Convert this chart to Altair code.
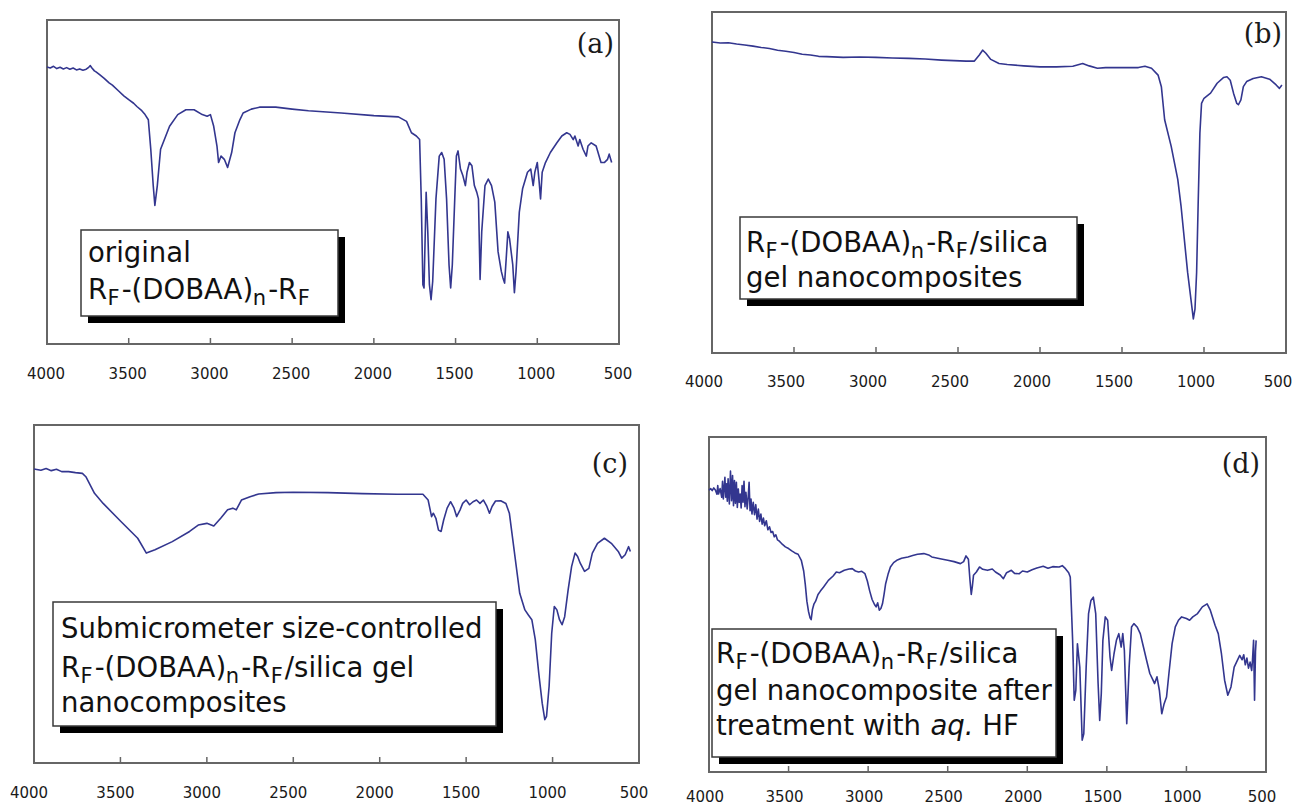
import altair as alt
import pandas as pd

# ---------------- data ----------------
A_WN = [4000, 3980, 3960, 3940, 3920, 3900, 3880, 3860, 3840, 3820, 3800, 3780, 3760, 3745, 3735, 3725,
        3710, 3700, 3680, 3650, 3620, 3600, 3560, 3530, 3500, 3470, 3450, 3420, 3400, 3380, 3365, 3350,
        3340, 3325, 3305, 3250, 3200, 3150, 3100, 3050, 3020, 3000, 2980, 2960, 2950, 2935, 2915, 2895,
        2870, 2850, 2820, 2800, 2750, 2700, 2600, 2500, 2400, 2200, 2000, 1850, 1800, 1770, 1740, 1720,
        1710, 1700, 1693, 1680, 1670, 1660, 1650, 1640, 1620, 1600, 1585, 1570, 1555, 1540, 1530, 1520,
        1505, 1495, 1485, 1470, 1455, 1440, 1430, 1415, 1400, 1385, 1370, 1360, 1350, 1340, 1320, 1300,
        1280, 1260, 1240, 1220, 1210, 1200, 1190, 1180, 1170, 1150, 1140, 1130, 1110, 1090, 1060, 1040,
        1025, 1015, 1000, 990, 980, 970, 950, 920, 880, 850, 820, 800, 780, 770, 750, 740, 720, 700, 690,
        670, 640, 610, 590, 570, 560, 545]
A_T = [85.5, 85.2, 85.7, 85.0, 85.4, 84.9, 85.3, 84.8, 85.2, 84.6, 84.9, 84.5, 84.8, 85.4, 85.9, 85.2,
       84.3, 84.0, 83.2, 82.0, 80.6, 79.9, 78.0, 76.6, 75.4, 74.3, 73.3, 72.0, 70.8, 69.2, 60.1, 48.9,
       42.8, 48.9, 60.1, 67.2, 70.8, 72.3, 72.3, 70.8, 70.3, 70.8, 67.2, 61.1, 56.0, 58.0, 57.0, 54.5,
       59.1, 65.2, 69.2, 71.3, 72.5, 73.1, 73.1, 72.5, 72.0, 71.3, 70.5, 70.1, 68.7, 65.2, 64.2, 63.1,
       44.8, 18.3, 17.3, 46.8, 34.6, 18.3, 13.7, 19.3, 44.8, 58.0, 59.1, 57.0, 44.8, 24.4, 17.3, 24.4,
       44.8, 58.0, 59.6, 54.0, 51.9, 48.9, 53.0, 56.0, 55.0, 48.9, 46.8, 44.8, 19.9, 34.6, 48.9, 50.9,
       48.9, 43.8, 28.5, 22.4, 20.4, 18.8, 26.5, 34.6, 32.6, 24.4, 15.8, 22.4, 40.7, 47.9, 53.0, 54.0,
       48.9, 53.0, 56.0, 50.9, 44.8, 53.0, 56.0, 59.1, 62.1, 64.2, 65.2, 64.7, 63.1, 64.2, 61.1, 63.1,
       60.1, 58.0, 61.1, 62.1, 61.1, 56.0, 56.0, 57.0, 58.6, 56.0]

B_WN = [4000, 3950, 3900, 3850, 3800, 3750, 3700, 3650, 3600, 3550, 3500, 3450, 3400, 3350, 3300, 3200,
        3100, 3000, 2900, 2800, 2700, 2600, 2450, 2400, 2370, 2350, 2330, 2300, 2250, 2200, 2100, 2000,
        1900, 1800, 1740, 1700, 1650, 1600, 1500, 1400, 1360, 1320, 1280, 1260, 1240, 1200, 1160, 1140,
        1120, 1100, 1080, 1065, 1055, 1045, 1035, 1025, 1015, 1000, 960, 920, 880, 860, 840, 820, 800,
        790, 775, 760, 740, 700, 650, 600, 560, 540, 525]
B_T = [91.2, 90.9, 91.0, 90.6, 90.3, 90.0, 89.6, 89.3, 88.8, 88.5, 88.1, 87.6, 87.4, 87.0, 86.9, 86.7,
       86.8, 86.7, 86.5, 86.4, 86.2, 85.9, 85.6, 85.6, 87.4, 88.8, 87.9, 86.1, 84.9, 84.6, 84.2, 83.9,
       83.9, 84.1, 84.9, 84.2, 83.5, 83.7, 83.7, 83.7, 84.1, 83.5, 81.5, 78.1, 68.4, 60.6, 50.9, 43.1,
       33.4, 23.7, 15.9, 10.0, 12.9, 23.7, 45.0, 64.5, 73.2, 74.7, 76.2, 79.1, 80.8, 81.0, 80.0, 76.2,
       73.2, 72.8, 74.2, 78.1, 79.6, 80.5, 81.0, 80.3, 78.6, 77.6, 78.6]

C_WN = [4000, 3960, 3930, 3900, 3870, 3840, 3800, 3760, 3720, 3700, 3650, 3600, 3500, 3400, 3350, 3300,
        3200, 3100, 3050, 3000, 2960, 2920, 2880, 2850, 2830, 2800, 2750, 2700, 2600, 2500, 2300, 2100,
        1900, 1750, 1720, 1700, 1690, 1675, 1660, 1645, 1630, 1610, 1590, 1570, 1555, 1535, 1520, 1500,
        1480, 1460, 1440, 1420, 1400, 1380, 1365, 1350, 1330, 1300, 1270, 1250, 1230, 1210, 1190, 1160,
        1140, 1120, 1100, 1080, 1060, 1045, 1035, 1020, 1005, 990, 975, 960, 945, 930, 910, 890, 870,
        855, 840, 815, 790, 770, 740, 700, 660, 620, 600, 580, 560, 550]
C_T = [87.0, 86.6, 87.1, 86.5, 86.9, 86.2, 86.2, 85.9, 85.7, 84.7, 79.8, 76.8, 71.6, 66.5, 62.1, 63.1,
       65.5, 68.5, 70.4, 70.9, 70.1, 72.4, 74.9, 75.4, 74.9, 77.8, 78.8, 79.6, 80.0, 80.1, 80.0, 79.7,
       79.5, 79.5, 77.8, 72.9, 73.9, 72.4, 68.9, 68.5, 71.9, 75.4, 77.3, 75.4, 72.9, 74.9, 76.8, 77.8,
       76.4, 77.3, 77.8, 76.8, 77.8, 75.9, 73.9, 75.9, 77.5, 77.6, 76.8, 73.9, 66.0, 58.1, 50.2, 45.3,
       43.8, 42.4, 36.5, 26.6, 17.7, 12.8, 13.8, 22.7, 38.4, 46.3, 45.3, 42.4, 40.9, 43.3, 51.2, 58.1,
       62.1, 61.1, 59.1, 56.7, 57.6, 62.1, 65.0, 66.5, 65.0, 62.6, 60.6, 61.6, 64.0, 62.6]

D_WN = [4000, 3990, 3980, 3970, 3960, 3950, 3945, 3940, 3930, 3920, 3915, 3910, 3900, 3895, 3890, 3885,
        3880, 3872, 3865, 3858, 3852, 3846, 3840, 3834, 3828, 3822, 3816, 3810, 3804, 3798, 3792, 3786,
        3780, 3774, 3768, 3760, 3754, 3748, 3742, 3736, 3730, 3722, 3714, 3706, 3698, 3690, 3682, 3674,
        3666, 3658, 3650, 3640, 3630, 3620, 3610, 3600, 3590, 3580, 3570, 3560, 3550, 3540, 3520, 3500,
        3480, 3460, 3440, 3420, 3405, 3395, 3385, 3375, 3365, 3358, 3350, 3340, 3330, 3315, 3300, 3280,
        3250, 3220, 3200, 3180, 3150, 3120, 3100, 3080, 3060, 3040, 3020, 3005, 2990, 2975, 2960, 2950,
        2940, 2930, 2920, 2910, 2900, 2890, 2875, 2860, 2840, 2820, 2790, 2750, 2720, 2690, 2650, 2620,
        2600, 2570, 2540, 2500, 2460, 2420, 2400, 2385, 2370, 2360, 2352, 2345, 2338, 2320, 2300, 2280,
        2250, 2220, 2200, 2170, 2150, 2130, 2100, 2080, 2050, 2030, 2000, 1970, 1940, 1900, 1870, 1840,
        1800, 1780, 1760, 1740, 1730, 1715, 1705, 1695, 1685, 1670, 1655, 1645, 1630, 1615, 1600, 1585,
        1570, 1555, 1545, 1535, 1525, 1510, 1495, 1480, 1470, 1455, 1440, 1425, 1410, 1400, 1390, 1375,
        1360, 1345, 1330, 1310, 1290, 1270, 1250, 1230, 1210, 1200, 1185, 1170, 1155, 1140, 1125, 1110,
        1090, 1070, 1050, 1030, 1000, 980, 960, 930, 900, 870, 850, 820, 800, 780, 760, 740, 720, 700,
        680, 665, 650, 640, 630, 620, 610, 600, 590, 585, 578, 572, 566, 562]
D_T = [84.1, 84.6, 84.0, 84.8, 84.2, 82.9, 85.5, 83.0, 84.6, 82.0, 86.8, 81.5, 88.0, 82.0, 86.0, 80.8,
       87.5, 80.0, 89.8, 81.0, 88.5, 79.5, 87.0, 80.2, 86.5, 79.0, 84.5, 80.5, 83.0, 78.8, 85.5, 80.5,
       86.8, 79.2, 83.5, 78.5, 82.0, 86.5, 78.0, 81.5, 77.0, 80.5, 76.8, 79.8, 75.5, 78.5, 74.8, 77.0,
       74.0, 75.8, 73.5, 75.0, 72.3, 73.2, 71.5, 71.8, 70.2, 70.8, 69.3, 69.0, 68.5, 68.0, 67.2, 66.7,
       66.0, 65.4, 65.0, 63.2, 60.0, 56.0, 51.0, 48.0, 46.0, 45.5, 48.5, 50.2, 51.0, 53.0, 54.0, 55.2,
       57.2, 58.5, 59.7, 59.5, 60.2, 60.6, 60.7, 60.0, 59.7, 59.9, 59.2, 57.0, 54.0, 51.5, 50.0, 49.3,
       50.5, 48.3, 48.8, 50.2, 53.0, 56.2, 59.0, 61.2, 62.5, 63.2, 63.8, 64.2, 64.6, 65.0, 65.2, 64.8,
       64.2, 63.9, 63.6, 63.2, 62.8, 62.2, 62.8, 64.5, 63.5, 57.2, 53.0, 55.5, 58.7, 59.7, 61.2, 60.5,
       60.2, 60.6, 59.7, 58.8, 57.7, 59.5, 60.2, 59.3, 59.2, 60.0, 59.7, 60.4, 60.9, 61.4, 60.8, 61.3,
       61.2, 61.6, 60.7, 59.5, 58.2, 39.3, 21.4, 24.4, 38.3, 31.3, 9.5, 11.4, 31.3, 47.3, 51.2, 52.2,
       47.3, 26.4, 15.4, 23.4, 39.3, 46.3, 45.3, 34.3, 30.3, 35.3, 39.3, 41.3, 37.3, 41.3, 36.3, 14.4,
       31.3, 43.3, 44.3, 43.3, 41.3, 37.3, 33.3, 29.4, 27.4, 26.4, 28.4, 24.4, 17.4, 20.4, 22.4, 29.4,
       38.3, 43.3, 45.3, 46.3, 45.8, 45.3, 46.3, 47.3, 49.3, 50.2, 48.3, 43.8, 41.3, 35.3, 27.4, 22.9,
       25.4, 31.3, 33.3, 34.8, 33.5, 35.0, 32.0, 34.0, 31.0, 32.8, 30.3, 33.3, 39.3, 21.4, 36.0, 39.3]

TICKS = [3500, 3000, 2500, 2000, 1500, 1000]
TICK_LABELS = [4000, 3500, 3000, 2500, 2000, 1500, 1000, 500]
PANEL_TAGS = ["(a)", "(b)", "(c)", "(d)"]

# ---------------- layout ----------------
LINE_COLOR = "#33368f"
FRAME_COLOR = "#666666"
W, H = 1293, 806

panels = [
    dict(wn=A_WN, t=A_T, x0=47, x1=619, y0=20, y1=344, tag=PANEL_TAGS[0], tagx=614, tagy=45, ldy=30, ldx=-1),
    dict(wn=B_WN, t=B_T, x0=712, x1=1286, y0=12, y1=353, tag=PANEL_TAGS[1], tagx=1282, tagy=35, ldy=29, ldx=-8),
    dict(wn=C_WN, t=C_T, x0=34, x1=639, y0=425, y1=763, tag=PANEL_TAGS[2], tagx=628, tagy=465, ldy=30, ldx=-5),
    dict(wn=D_WN, t=D_T, x0=709, x1=1266, y0=437, y1=772, tag=PANEL_TAGS[3], tagx=1260, tagy=465, ldy=25, ldx=-4),
]

one_row = pd.DataFrame({"k": [0]})
layers = []
for p in panels:
    xs = alt.Scale(domain=[500, 4000], range=[p["x1"], p["x0"]], nice=False, zero=False)
    ys = alt.Scale(domain=[0, 100], range=[p["y1"], p["y0"]], nice=False, zero=False)
    df = pd.DataFrame({"wn": p["wn"], "t": p["t"]})
    df["i"] = range(len(df))
    tick_df = pd.DataFrame({"v": TICKS})
    lab_df = pd.DataFrame({"v": TICK_LABELS, "s": [str(v) for v in TICK_LABELS]})
    tick_len = 6.0 / (p["y1"] - p["y0"]) * 100

    frame = alt.Chart(one_row).mark_rect(fill="white", stroke=FRAME_COLOR, strokeWidth=2).encode(
        x=alt.X(datum=4000, type="quantitative", scale=xs, axis=None),
        x2=alt.X2(datum=500),
        y=alt.Y(datum=0, type="quantitative", scale=ys, axis=None),
        y2=alt.Y2(datum=100),
    )
    ticks = alt.Chart(tick_df).mark_rule(color=FRAME_COLOR, strokeWidth=1.5).encode(
        x=alt.X("v:Q", scale=xs, axis=None),
        y=alt.Y(datum=0, type="quantitative", scale=ys, axis=None),
        y2=alt.Y2(datum=tick_len),
    )
    labels = alt.Chart(lab_df).mark_text(
        font="DejaVu Sans", fontSize=15, color="#1a1a1a", baseline="middle", align="center",
        dy=p["ldy"], dx=p["ldx"],
    ).encode(
        x=alt.X("v:Q", scale=xs, axis=None),
        y=alt.Y(datum=0, type="quantitative", scale=ys, axis=None),
        text="s:N",
    )
    line = alt.Chart(df).mark_line(color=LINE_COLOR, strokeWidth=1.6, strokeJoin="round").encode(
        x=alt.X("wn:Q", scale=xs, axis=None),
        y=alt.Y("t:Q", scale=ys, axis=None),
        order="i:Q",
    )
    tag = alt.Chart(one_row).mark_text(
        text=p["tag"], font="DejaVu Serif", fontSize=27, color="#1a1a1a", align="right", baseline="middle"
    ).encode(x=alt.value(p["tagx"]), y=alt.value(p["tagy"]))
    layers.append(alt.layer(frame, ticks, line, labels, tag))

# ---------------- annotation boxes ----------------
ADV = {" ": 318, "(": 390, ")": 390, "-": 361, ".": 318, "/": 337, "A": 684, "B": 686,
       "D": 770, "F": 575, "H": 752, "O": 787, "R": 695, "S": 635, "a": 613, "b": 635, "c": 550,
       "d": 635, "e": 615, "f": 352, "g": 635, "h": 634, "i": 278, "l": 278, "m": 974, "n": 634,
       "o": 612, "p": 635, "q": 635, "r": 411, "s": 521, "t": 392, "u": 634, "w": 818, "z": 525}


def width(s, fs):
    return sum(ADV.get(c, 600) for c in s) * fs / 1000.0


FS, SUB_FS, SUB_DY = 27.5, 21, 6
SUB_PAD_L, SUB_PAD_R = 0.5, 2.0
GAP = width(" ", FS)
RF = [("R", "n"), ("F", "s"), ("-(DOBAA)", "n"), ("n", "s"), ("-R", "n"), ("F", "s")]
boxes = [
    dict(x0=81, y0=230, x1=338, y1=316, tx=88, bases=[262, 299],
         lines=[[("original", "n")], RF]),
    dict(x0=740, y0=217, x1=1077, y1=299, tx=746, bases=[252, 287],
         lines=[RF + [("/silica", "n")], [("gel nanocomposites", "n")]]),
    dict(x0=53, y0=602, x1=496, y1=726, tx=61, bases=[638, 677, 712],
         lines=[[("Submicrometer size-controlled", "n")], RF + [("/silica gel", "n")], [("nanocomposites", "n")]]),
    dict(x0=712, y0=629, x1=1056, y1=757, tx=716, bases=[663, 700, 735],
         lines=[RF + [("/silica", "n")], [("gel nanocomposite after", "n")],
                [("treatment with", "n"), ("_", "gap"), ("aq.", "i"), ("_", "gap"), ("HF", "n")]]),
]

rows = []
for b in boxes:
    for line, base in zip(b["lines"], b["bases"]):
        x = b["tx"]
        for txt, kind in line:
            if kind == "gap":
                x += GAP
            elif kind == "s":
                x += SUB_PAD_L
                rows.append(dict(x=x, y=base + SUB_DY, text=txt, kind=kind))
                x += width(txt, SUB_FS) + SUB_PAD_R
            else:
                rows.append(dict(x=x, y=base, text=txt, kind=kind))
                x += width(txt, FS)
seg = pd.DataFrame(rows)
box_df = pd.DataFrame([dict(x=b["x0"], x2=b["x1"], y=b["y0"], y2=b["y1"],
                            sx=b["x0"] + 7, sx2=b["x1"] + 7, sy=b["y0"] + 7, sy2=b["y1"] + 7) for b in boxes])

shadow = alt.Chart(box_df).mark_rect(fill="black").encode(
    x=alt.X("sx:Q", scale=None, axis=None), x2="sx2:Q",
    y=alt.Y("sy:Q", scale=None, axis=None), y2="sy2:Q")
box = alt.Chart(box_df).mark_rect(fill="white", stroke="#3a3a3a", strokeWidth=1.5).encode(
    x=alt.X("x:Q", scale=None, axis=None), x2="x2:Q",
    y=alt.Y("y:Q", scale=None, axis=None), y2="y2:Q")


def text_layer(kind, fs, style="normal"):
    return alt.Chart(seg[seg["kind"] == kind]).mark_text(
        font="DejaVu Sans", fontSize=fs, fontStyle=style, color="#111111", align="left", baseline="alphabetic"
    ).encode(x=alt.X("x:Q", scale=None, axis=None), y=alt.Y("y:Q", scale=None, axis=None), text="text:N")


annot = alt.layer(shadow, box, text_layer("n", FS), text_layer("s", SUB_FS), text_layer("i", FS, "italic"))

chart = alt.layer(*layers, annot).resolve_scale(x="independent", y="independent").properties(
    width=W, height=H, padding=0, autosize="none", background="white"
).configure_view(stroke=None)

chart.save("out.html", embed_options={"renderer": "svg", "actions": False})
